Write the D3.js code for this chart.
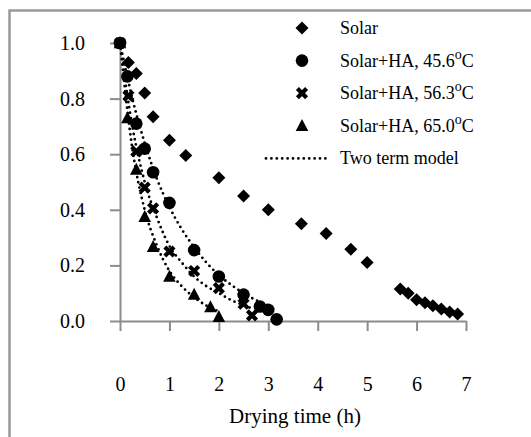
<!DOCTYPE html>
<html><head><meta charset="utf-8">
<script src="https://cdn.jsdelivr.net/npm/d3@7"></script>
<style>
html,body{margin:0;padding:0;background:#fff;}
svg text{font-family:"Liberation Serif","Times New Roman",serif;fill:#000;}
</style></head>
<body>
<svg id="c" width="531" height="437"></svg>
<script>
// ---- data ----
const xTicks = [0,1,2,3,4,5,6,7];
const yTicks = [0.0,0.2,0.4,0.6,0.8,1.0];

const solarT  = [0,0.17,0.33,0.5,0.67,1.0,1.33,2.0,2.5,3.0,3.67,4.17,4.67,5.0,5.67,5.83,6.0,6.17,6.33,6.5,6.67,6.83];
const solarMR = [1.0,0.93,0.89,0.82,0.735,0.65,0.595,0.515,0.45,0.40,0.35,0.315,0.258,0.21,0.115,0.10,0.076,0.066,0.055,0.043,0.032,0.025];

const ha456T  = [0,0.15,0.33,0.5,0.67,1.0,1.5,2.0,2.5,2.83,3.0,3.17];
const ha456MR = [1.0,0.88,0.71,0.62,0.535,0.425,0.255,0.16,0.095,0.052,0.04,0.006];

const ha563T  = [0,0.17,0.33,0.5,0.67,1.0,1.5,2.0,2.5,2.67];
const ha563MR = [1.0,0.81,0.61,0.48,0.405,0.25,0.18,0.118,0.062,0.02];

const ha650T  = [0,0.15,0.33,0.5,0.67,1.0,1.5,1.83,2.0];
const ha650MR = [1.0,0.73,0.545,0.375,0.267,0.16,0.095,0.05,0.015];

// two term model curves
const fit456T  = [0,0.25,0.5,0.75,1.0,1.25,1.5,1.75,2.0,2.25,2.5,2.75,3.0,3.17];
const fit456MR = [1.0,0.80,0.64,0.51,0.41,0.33,0.265,0.21,0.165,0.13,0.10,0.075,0.055,0.045];
const fit563T  = [0,0.25,0.5,0.75,1.0,1.25,1.5,1.75,2.0,2.25,2.5,2.67];
const fit563MR = [1.0,0.70,0.50,0.37,0.27,0.21,0.16,0.125,0.10,0.075,0.057,0.045];
const fit650T  = [0,0.25,0.5,0.75,1.0,1.25,1.5,1.75,2.0];
const fit650MR = [1.0,0.62,0.40,0.27,0.18,0.125,0.085,0.055,0.035];

const legendLabels = ["Solar","Solar+HA, 45.6","Solar+HA, 56.3","Solar+HA, 65.0","Two term model"];
const xTitle = "Drying time (h)";

// ---- drawing ----
const svg = d3.select("#c");
const x = d3.scaleLinear().domain([0,7]).range([120,466]);
const y = d3.scaleLinear().domain([0,1]).range([321,43]);
const axisCol = "#8c8c8c";

// outer border (only top/left visible in frame)
svg.append("rect").attr("x",9.5).attr("y",10.5).attr("width",560).attr("height",460)
  .attr("fill","none").attr("stroke","#999").attr("stroke-width",2.5);

// y axis
const yAx = svg.append("g").attr("transform","translate(120,0)")
  .call(d3.axisLeft(y).tickValues(yTicks).tickFormat(d3.format(".1f")).tickSize(10).tickPadding(25).tickSizeOuter(0));
// x axis
const xAx = svg.append("g").attr("transform","translate(0,321)")
  .call(d3.axisBottom(x).tickValues(xTicks).tickFormat(d3.format("d")).tickSize(10).tickPadding(46).tickSizeOuter(0));
[yAx,xAx].forEach(g=>{
  g.select(".domain").attr("stroke",axisCol).attr("stroke-width",2);
  g.selectAll(".tick line").attr("stroke",axisCol).attr("stroke-width",2);
  g.selectAll(".tick text").attr("font-size",20).attr("font-family","Liberation Serif").attr("fill","#000");
});
yAx.selectAll(".tick text").attr("text-anchor","end");

svg.append("text").attr("x",295).attr("y",423).attr("text-anchor","middle")
  .attr("font-size",21).text(xTitle);

// fit curves
const line = d3.line().x(d=>x(d[0])).y(d=>y(d[1])).curve(d3.curveMonotoneX);
[[fit456T,fit456MR],[fit563T,fit563MR],[fit650T,fit650MR]].forEach(([T,M])=>{
  svg.append("path").datum(T.map((t,i)=>[t,M[i]])).attr("d",line)
    .attr("fill","none").attr("stroke","#000").attr("stroke-width",2.8)
    .attr("stroke-dasharray","0 5.4").attr("stroke-linecap","round");
});

// markers
const diamond = (g)=>g.append("path").attr("d","M0,-6.5L6.5,0L0,6.5L-6.5,0Z").attr("fill","#000");
const circle = (g)=>g.append("circle").attr("r",6.3).attr("fill","#000");
const cross = (g)=>g.append("path").attr("d","M-4.6,-4.6L4.6,4.6M-4.6,4.6L4.6,-4.6").attr("stroke","#000").attr("stroke-width",4.2).attr("fill","none");
const tri = (g)=>g.append("path").attr("d","M0,-6.8L6.3,5.2L-6.3,5.2Z").attr("fill","#000");

function drawSeries(T,M,fn){
  T.forEach((t,i)=>{
    const g = svg.append("g").attr("transform",`translate(${x(t)},${y(M[i])})`);
    fn(g);
  });
}
drawSeries(solarT,solarMR,diamond);
drawSeries(ha456T,ha456MR,circle);
drawSeries(ha563T,ha563MR,cross);
drawSeries(ha650T,ha650MR,tri);

// legend
const lgY0 = 28, lgDy = 32.6;
const markers = [diamond,circle,cross,tri];
legendLabels.forEach((lab,i)=>{
  const yy = lgY0 + i*lgDy;
  if(i<4){
    const g = svg.append("g").attr("transform",`translate(302,${yy})`);
    markers[i](g);
  } else {
    svg.append("line").attr("x1",266).attr("x2",328).attr("y1",yy).attr("y2",yy)
      .attr("stroke","#000").attr("stroke-width",2.8).attr("stroke-dasharray","0 5.4").attr("stroke-linecap","round");
  }
  const t = svg.append("text").attr("x",340).attr("y",yy+6).attr("font-size",18);
  t.append("tspan").text(lab);
  if(i>0 && i<4){
    t.append("tspan").attr("font-size",14).attr("dy",-8).text("o");
    t.append("tspan").attr("dy",8).text("C");
  }
});
</script>
</body></html>
